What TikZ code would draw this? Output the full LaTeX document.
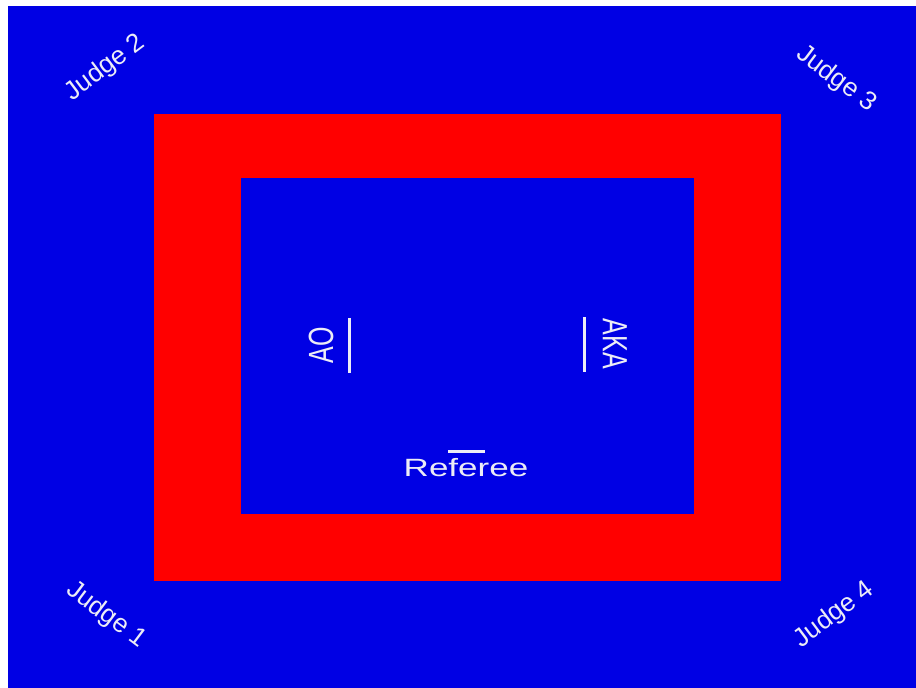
\documentclass[tikz,border=0pt]{standalone}
\usepackage{fontspec}
\setmainfont{Liberation Sans}
\usepackage{xcolor}
\usetikzlibrary{positioning}
\definecolor{matblue}{RGB}{0,0,228}
\definecolor{matred}{RGB}{255,0,0}
\definecolor{txtwhite}{RGB}{236,236,246}
\tikzset{
  lab/.style  ={text=txtwhite,inner sep=0pt,font=\fontsize{12.5}{14}\selectfont,xscale=1.4},
  judge/.style={text=txtwhite,inner sep=0pt,font=\fontsize{13}{15}\selectfont},
  tick/.style ={draw=txtwhite,line width=1.5pt},
}
\begin{document}
\begin{tikzpicture}[x=0.5pt,y=-0.5pt]
  % page, blue floor with a thin white rim
  \useasboundingbox (0,0) rectangle (916,688);
  \fill[white] (0,0) rectangle (916,688);
  \fill[matblue] (8,6) rectangle (916,688);
  % red safety area and blue competition area
  \fill[matred] (154,114) rectangle (781,581);
  \fill[matblue] (241,178) rectangle (694,514);
  % judges at the corners
  \node[judge,rotate=37]  (j2) at (105,68) {Judge 2};
  \node[judge,rotate=-37] (j3) at (836,79) {Judge 3};
  \node[judge,rotate=-37] (j1) at (106,615) {Judge 1};
  \node[judge,rotate=37]  (j4) at (834,615) {Judge 4};
  % competitors and referee
  \node[lab,rotate=90]  (ao)  at (321,345) {AO};
  \node[lab,rotate=-90] (aka) at (615,344) {AKA};
  \node[lab]            (ref) at (466,468) {Referee};
  \coordinate (aoT) at (349,318);  \coordinate (aoB) at (349,373);
  \coordinate (akaT) at (584,317); \coordinate (akaB) at (584,372);
  \coordinate (refL) at (448,452); \coordinate (refR) at (485,452);
  \draw[tick] (aoT) -- (aoB);
  \draw[tick] (akaT) -- (akaB);
  \draw[tick] (refL) -- (refR);
\end{tikzpicture}
\end{document}
